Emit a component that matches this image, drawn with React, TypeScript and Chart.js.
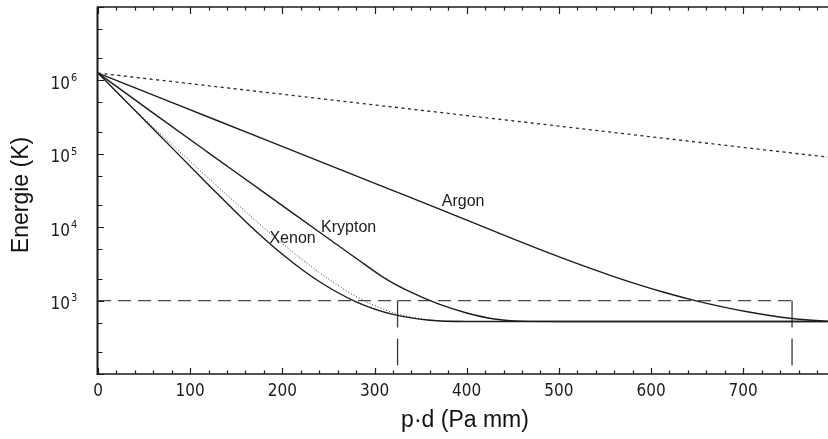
import React, { useEffect, useRef } from "react";
import { Chart, registerables } from "chart.js";

Chart.register(...registerables);

// ---- data (x: p·d in Pa mm, y: Energie in K) ----
const upperX = [0, 792];
const upperY = [1.26e6, 9.0e4];

const argonX = [0, 88, 180, 316, 378, 449, 504, 558, 612, 649, 703, 753, 792];
const argonY = [1.26e6, 4.57e5, 1.58e5, 3.31e4, 1.62e4, 7.05e3, 3.78e3, 2.16e3, 1.32e3, 993, 710, 570, 521];

const kryptonX = [0, 60, 120, 180, 240, 280, 310, 340, 370, 400, 430, 460, 500, 792];
const kryptonY = [1.26e6, 3.58e5, 1.03e5, 2.98e4, 8.59e3, 3.78e3, 2.06e3, 1.29e3, 893, 678, 562, 525, 520, 520];

const xenonX = [0, 60, 120, 160, 200, 240, 280, 320, 360, 400, 792];
const xenonY = [1.26e6, 2.18e5, 3.77e4, 1.2e4, 4.29e3, 1.82e3, 964, 649, 540, 520, 520];

const xenonDotX = [0, 30, 90, 150, 200, 240, 280, 320, 360, 400];
const xenonDotY = [1.26e6, 5.24e5, 1.03e5, 2.12e4, 5.98e3, 2.43e3, 1.14e3, 687, 546, 521];

const limitHX = [0, 753];
const limitHY = [1000, 1000];
const limitLeftX = [325, 325];
const limitRightX = [753, 753];
const limitVY = [1000, 100];

const xTickLabels = [0, 100, 200, 300, 400, 500, 600, 700];
const xMinorStep = 20;
const yDecades = [2, 3, 4, 5, 6, 7];
const yLabelExps = [3, 4, 5, 6];
const yMinorFactors = [2, 5];

const curveLabels = ["Argon", "Krypton", "Xenon"];
const curveLabelX = [373, 242, 186];
const curveLabelY = [1.95e4, 8.6e3, 6.1e3];

const xTitle = "p·d (Pa mm)";
const yTitle = "Energie (K)";

const pts = (xs: number[], ys: number[]) => xs.map((x, i) => ({ x, y: ys[i] }));

const INK = "#1c1c1c";
const NUM_FONT = '"Liberation Sans Narrow", "DejaVu Sans Condensed", "Liberation Sans", sans-serif';

const decorPlugin = {
  id: "decor",
  afterDatasetsDraw(chart: any) {
    const { ctx, chartArea: a, scales } = chart;
    const xs = scales.x;
    const ys = scales.y;
    ctx.save();
    ctx.strokeStyle = INK;
    ctx.fillStyle = INK;
    // frame
    ctx.lineWidth = 2;
    ctx.beginPath();
    ctx.moveTo(a.left - 0.5, a.top);
    ctx.lineTo(a.left - 0.5, a.bottom + 1);
    ctx.stroke();
    ctx.lineWidth = 1.6;
    ctx.beginPath();
    ctx.moveTo(a.left - 1, a.bottom);
    ctx.lineTo(a.right, a.bottom);
    ctx.moveTo(a.left - 1, a.top);
    ctx.lineTo(a.right, a.top);
    ctx.stroke();

    // x ticks (bottom up, top down)
    ctx.lineWidth = 1.2;
    ctx.beginPath();
    for (let v = 0; v <= xs.max; v += xMinorStep) {
      const px = Math.round(xs.getPixelForValue(v)) + 0.5;
      const major = v % 100 === 0;
      const len = major ? 6 : 3.5;
      ctx.moveTo(px, a.bottom);
      ctx.lineTo(px, a.bottom - len);
      ctx.moveTo(px, a.top);
      ctx.lineTo(px, a.top + len + (major ? 1 : 0));
    }
    ctx.stroke();

    // y ticks
    ctx.beginPath();
    yDecades.forEach((e) => {
      const py = Math.round(ys.getPixelForValue(Math.pow(10, e))) + 0.5;
      ctx.moveTo(a.left, py);
      ctx.lineTo(a.left + 6, py);
      if (e < 7) {
        yMinorFactors.forEach((f) => {
          const pm = Math.round(ys.getPixelForValue(f * Math.pow(10, e))) + 0.5;
          ctx.moveTo(a.left, pm);
          ctx.lineTo(a.left + 4.5, pm);
        });
      }
    });
    ctx.stroke();

    // x tick labels
    ctx.font = "17px " + NUM_FONT;
    ctx.textAlign = "center";
    ctx.textBaseline = "middle";
    xTickLabels.forEach((v) => {
      ctx.fillText(String(v), xs.getPixelForValue(v), 391.5);
    });

    // y tick labels 10^n
    yLabelExps.forEach((e) => {
      const py = ys.getPixelForValue(Math.pow(10, e));
      ctx.font = "17px " + NUM_FONT;
      ctx.textAlign = "right";
      ctx.textBaseline = "middle";
      ctx.fillText("10", 70, py + 4);
      ctx.font = "11px " + NUM_FONT;
      ctx.textAlign = "left";
      ctx.fillText(String(e), 71, py - 2);
    });

    // curve labels
    ctx.font = '16px "Liberation Sans", Arial, sans-serif';
    ctx.textAlign = "left";
    ctx.textBaseline = "alphabetic";
    curveLabels.forEach((t, i) => {
      ctx.fillText(t, xs.getPixelForValue(curveLabelX[i]), ys.getPixelForValue(curveLabelY[i]));
    });

    // axis titles
    ctx.fillStyle = "#111";
    ctx.font = '23px "Liberation Sans", Arial, sans-serif';
    ctx.textAlign = "center";
    ctx.textBaseline = "middle";
    ctx.fillText(xTitle, 465, 421);
    ctx.save();
    ctx.translate(22, 195);
    ctx.rotate(-Math.PI / 2);
    ctx.fillText(yTitle, 0, 0);
    ctx.restore();

    ctx.restore();
  },
};

export default function App() {
  const ref = useRef<HTMLCanvasElement>(null);
  useEffect(() => {
    document.body.style.margin = "0";
    const solid = { borderColor: INK, borderWidth: 1.4, pointRadius: 0, fill: false, cubicInterpolationMode: "monotone" as const };
    const chart = new Chart(ref.current!, {
      type: "line",
      data: {
        datasets: [
          { label: "upper", data: pts(upperX, upperY), borderColor: "#2a2a2a", borderWidth: 1.3, borderDash: [3, 3.5], pointRadius: 0 },
          { label: "Argon", data: pts(argonX, argonY), ...solid },
          { label: "Krypton", data: pts(kryptonX, kryptonY), ...solid },
          { label: "Xenon", data: pts(xenonX, xenonY), ...solid },
          { label: "Xenon dotted", data: pts(xenonDotX, xenonDotY), borderColor: "#333", borderWidth: 1, borderDash: [1, 2], pointRadius: 0, cubicInterpolationMode: "monotone" as const },
          { label: "limit", data: pts(limitHX, limitHY), borderColor: "#4a4a4a", borderWidth: 1.3, borderDash: [13, 7], pointRadius: 0 },
          { label: "limitL", data: pts(limitLeftX, limitVY), borderColor: "#3a3a3a", borderWidth: 1.3, borderDash: [27, 11], pointRadius: 0 },
          { label: "limitR", data: pts(limitRightX, limitVY), borderColor: "#3a3a3a", borderWidth: 1.3, borderDash: [27, 11], pointRadius: 0 },
        ],
      },
      options: {
        responsive: false,
        animation: false,
        layout: { padding: { left: 98, right: 0, top: 7, bottom: 65 } },
        plugins: { legend: { display: false }, tooltip: { enabled: false }, title: { display: false } },
        scales: {
          x: { type: "linear", min: 0, max: 792, display: false },
          y: { type: "logarithmic", min: 100, max: 1e7, display: false },
        },
      },
      plugins: [decorPlugin],
    });
    return () => chart.destroy();
  }, []);
  return (
    <div style={{ width: 828, height: 439, background: "#fff" }}>
      <canvas ref={ref} width={828} height={439} style={{ display: "block" }} />
    </div>
  );
}
